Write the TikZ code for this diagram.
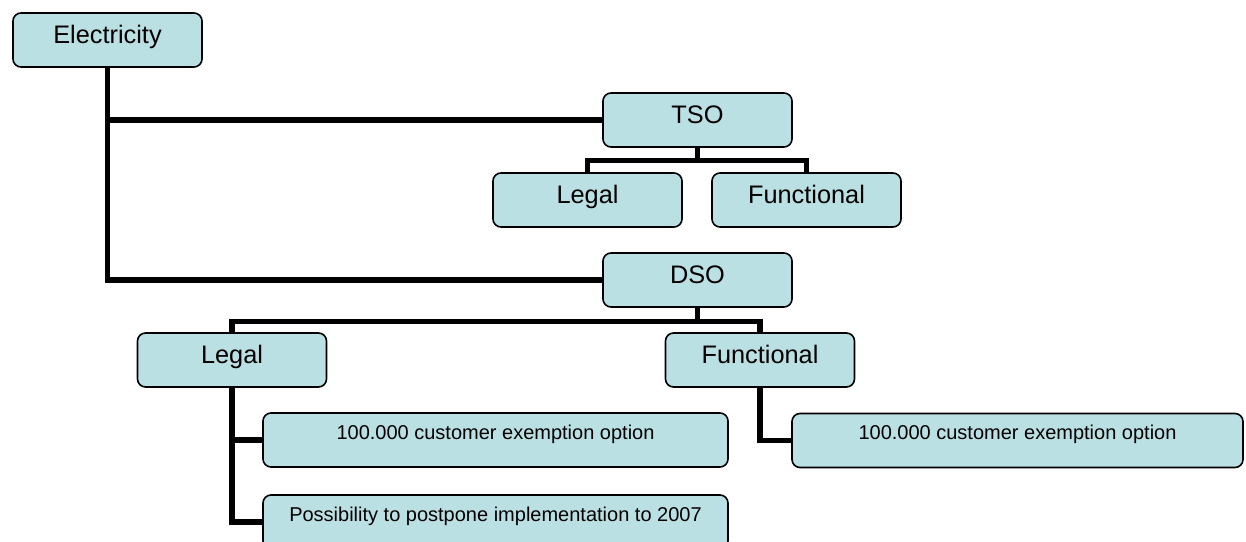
\documentclass[tikz,border=0pt]{standalone}
\usepackage{fontspec}
\setmainfont{Liberation Sans}
\usetikzlibrary{backgrounds}
\definecolor{boxfill}{RGB}{187,224,227}
\tikzset{
  box/.style={draw=black, line width=1.2pt, fill=boxfill, rounded corners=6pt,
    inner xsep=0pt, inner ysep=9pt, anchor=center},
  big/.style={box, font=\fontsize{19}{21}\selectfont, text height=13.6pt,
    text depth=8.9pt, minimum width=141.75pt},
  small/.style={box, font=\fontsize{15}{17}\selectfont, text height=10.7pt,
    text depth=11.8pt},
  conn/.style={line width=4pt, black}
}
\begin{document}
\begin{tikzpicture}[x=0.75pt, y=-0.75pt]
\useasboundingbox (0,0) rectangle (1246,542);
\clip (0,0) rectangle (1246,542);

\node[big] (el) at (107.5,40) {Electricity};
\node[big] (tso) at (697.5,120) {TSO};
\node[big] (tl) at (587.5,200) {Legal};
\node[big] (tf) at (806.5,200) {Functional};
\node[big] (dso) at (697.5,280) {DSO};
\node[big] (dl) at (232,360) {Legal};
\node[big] (df) at (760,360) {Functional};
\node[small, minimum width=348.75pt] (l1) at (495.5,440) {100.000 customer exemption option};
\node[small, minimum width=348.75pt] (l2) at (495.5,522) {Possibility to postpone implementation to 2007};
\node[small, minimum width=338.25pt] (f1) at (1017.5,440.5) {100.000 customer exemption option};

\begin{scope}[on background layer]
\draw[conn] (el.south) |- (dso.west);
\draw[conn] (el.south |- tso.west) -- (tso.west);
\draw[conn] (tso.south) -- ++(0,13) coordinate (tb) -| (tl.north);
\draw[conn] (tb) -| (tf.north);
\draw[conn] (dso.south) -- ++(0,13.5) coordinate (db) -| (dl.north);
\draw[conn] (db) -| (df.north);
\draw[conn] (dl.south) |- (l1.west);
\draw[conn] (dl.south) |- (l2.west);
\draw[conn] (df.south) |- (f1.west);
\end{scope}
\end{tikzpicture}
\end{document}
